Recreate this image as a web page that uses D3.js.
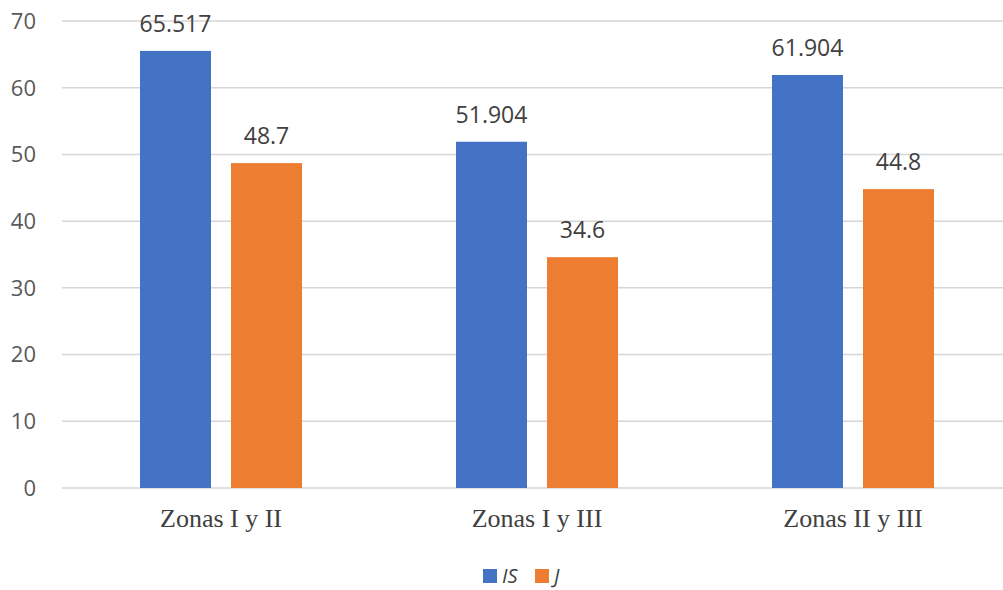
<!DOCTYPE html>
<html><head><meta charset="utf-8">
<script src="https://cdn.jsdelivr.net/npm/d3@7"></script>
<style>
html,body{margin:0;padding:0;background:#fff;}
svg{display:block;}
</style></head>
<body>
<svg id="chart" width="1003" height="590"></svg>
<script>
const categories = ["Zonas I y II", "Zonas I y III", "Zonas II y III"];
const seriesNames = ["IS", "J"];
const valuesIS = [65.517, 51.904, 61.904];
const valuesJ = [48.7, 34.6, 44.8];
const labelsIS = ["65.517", "51.904", "61.904"];
const labelsJ = ["48.7", "34.6", "44.8"];
const yTicks = [0, 10, 20, 30, 40, 50, 60, 70];
const colors = ["#4472C4", "#ED7D31"];

(function () {
const svg = d3.select("#chart");
const W = 1003;
const mLeft = 63, mRight = 1011, mTop = 21, mBottom = 488;

const x0 = d3.scaleBand().domain(categories).range([mLeft, mRight]).paddingInner(0.4873).paddingOuter(0.2437);
const x1 = d3.scaleBand().domain(seriesNames).range([0, x0.bandwidth()]).paddingInner(0.22).paddingOuter(0);
const y = d3.scaleLinear().domain([0, 70]).range([mBottom, mTop]);

// gridlines
svg.append("g").selectAll("line").data(yTicks).join("line")
  .attr("x1", 62).attr("x2", W)
  .attr("y1", d => y(d)).attr("y2", d => y(d))
  .attr("stroke", "#d6d6d6").attr("stroke-width", 1.5);

// y labels
svg.append("g").selectAll("text").data(yTicks).join("text")
  .attr("x", 36).attr("y", d => y(d)).attr("dy", "0.36em")
  .attr("text-anchor", "end")
  .attr("font-family", "'Open Sans', sans-serif").attr("font-size", 22)
  .attr("fill", "#595959").text(d => d);

const data = categories.map((c, i) => ({
  cat: c,
  items: [
    {s: "IS", v: valuesIS[i], l: labelsIS[i], c: colors[0]},
    {s: "J", v: valuesJ[i], l: labelsJ[i], c: colors[1]}
  ]
}));

const groups = svg.append("g").selectAll("g").data(data).join("g")
  .attr("transform", d => `translate(${x0(d.cat)},0)`);

groups.selectAll("rect").data(d => d.items).join("rect")
  .attr("x", d => x1(d.s)).attr("width", x1.bandwidth())
  .attr("y", d => y(d.v)).attr("height", d => y(0) - y(d.v))
  .attr("fill", d => d.c);

groups.selectAll("text.val").data(d => d.items).join("text")
  .attr("class", "val")
  .attr("x", d => x1(d.s) + x1.bandwidth() / 2)
  .attr("y", d => y(d.v) - 19)
  .attr("text-anchor", "middle")
  .attr("font-family", "'Open Sans', sans-serif").attr("font-size", 23)
  .attr("fill", "#404040").text(d => d.l);

// category labels
svg.append("g").selectAll("text").data(categories).join("text")
  .attr("x", d => x0(d) + x0.bandwidth() / 2)
  .attr("y", 527)
  .attr("text-anchor", "middle")
  .attr("font-family", "'Liberation Serif', 'Times New Roman', serif").attr("font-size", 26)
  .attr("fill", "#404040").text(d => d);

// legend
const legendX = [483, 535];
const lg = svg.append("g").selectAll("g").data(seriesNames).join("g")
  .attr("transform", (d, i) => `translate(${legendX[i]},569)`);
lg.append("rect").attr("width", 14).attr("height", 14).attr("fill", (d, i) => colors[i]);
lg.append("text").attr("x", 19).attr("y", 14)
  .attr("font-family", "'Open Sans', sans-serif").attr("font-size", 20)
  .attr("font-style", "italic").attr("fill", "#404040").text(d => d);
})();
</script>
</body></html>
